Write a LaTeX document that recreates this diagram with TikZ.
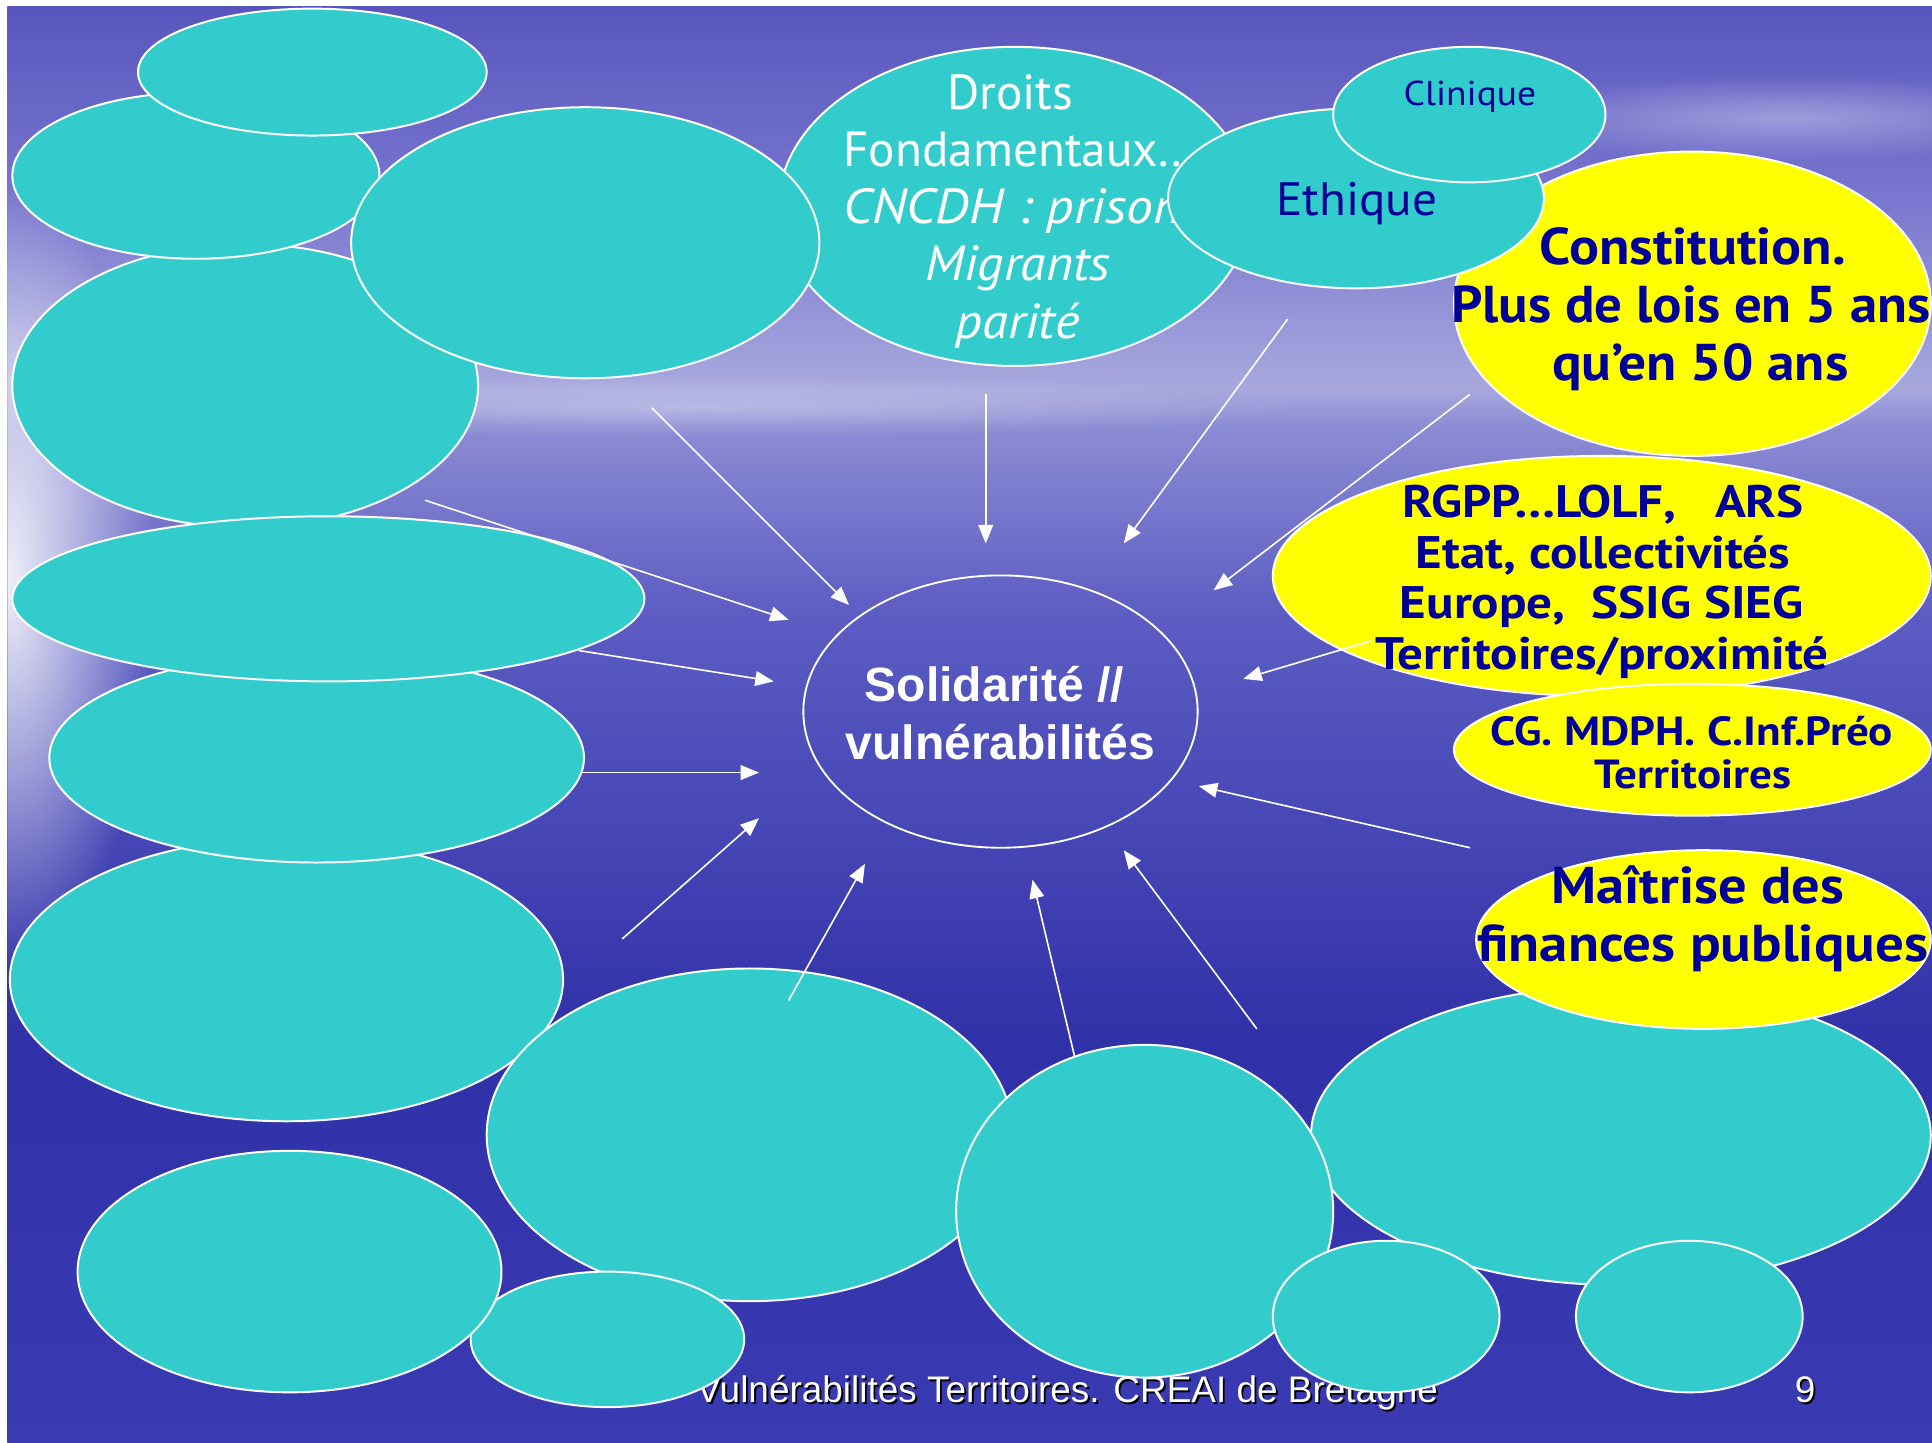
\documentclass[tikz,border=0pt]{standalone}
\usepackage{fontspec}
\usetikzlibrary{shapes.geometric,arrows.meta,fadings}
\newfontfamily\ptsans{PT Sans}
\newfontfamily\libsans{Liberation Sans}
\definecolor{turq}{RGB}{51,204,204}
\definecolor{yel}{RGB}{255,255,0}
\definecolor{navy}{RGB}{0,0,153}
\definecolor{bgT}{RGB}{88,86,190}
\definecolor{bgA}{RGB}{118,116,205}
\definecolor{bgB}{RGB}{168,168,222}
\definecolor{bgC}{RGB}{140,140,212}
\definecolor{bgD}{RGB}{92,92,195}
\definecolor{bgE}{RGB}{48,48,168}
\definecolor{bgF}{RGB}{58,58,178}
\tikzfading[name=softglow, inner color=transparent!0, outer color=transparent!100]
\newcommand\sx[2]{\scalebox{#1}[1]{#2}}
\begin{document}
\begin{tikzpicture}[x=1pt,y=-1pt,
  bub/.style 2 args={ellipse, draw=white, line width=1.6pt, fill=turq, inner sep=0pt, minimum width=#1pt, minimum height=#2pt},
  ybub/.style 2 args={bub={#1}{#2}, fill=yel},
  hub/.style 2 args={ellipse, draw=white, line width=1.5pt, inner sep=0pt, minimum width=#1pt, minimum height=#2pt},
  txt/.style={inner sep=0pt, anchor=base},
  wtxt/.style={txt, text=white, font=\ptsans\fontsize{40}{47}\selectfont},
  ytxt/.style={txt, text=navy, font=\ptsans\bfseries\fontsize{42}{47}\selectfont},
  rtxt/.style={txt, text=navy, font=\ptsans\bfseries\fontsize{37}{41}\selectfont},
  conn/.style={draw=white, line width=1.3pt, -{Triangle[length=15pt,width=12pt]}}]
% background
\useasboundingbox (0,0) rectangle (1568,1171);
\fill[white] (0,0) rectangle (1568,1171);
\shade[top color=bgT, bottom color=bgA] (6,5.5) rectangle (1568,150.5);
\shade[top color=bgA, bottom color=bgB] (6,150) rectangle (1568,315.5);
\shade[top color=bgB, bottom color=bgC] (6,315) rectangle (1568,345.5);
\shade[top color=bgC, bottom color=bgD] (6,345) rectangle (1568,500.5);
\shade[top color=bgD, bottom color=bgE] (6,500) rectangle (1568,850.5);
\shade[top color=bgE, bottom color=bgF] (6,850) rectangle (1568,1171);
\begin{scope}
\clip (6,5.5) rectangle (1568,1171);
\fill[white, path fading=softglow, fill opacity=0.9] (6,470) ellipse [x radius=120, y radius=320];
\fill[white, path fading=softglow, fill opacity=0.35] (1450,95) ellipse [x radius=260, y radius=35];
\fill[white, path fading=softglow, fill opacity=0.3] (560,330) ellipse [x radius=500, y radius=25];
\end{scope}
% footer
\node[txt, anchor=base west, text=black, font=\libsans\fontsize{30}{34}\selectfont] (ftsh) at (566.5,1139.5) {Vulnérabilités Territoires. CREAI de Bretagne};
\node[txt, anchor=base west, text=white, font=\libsans\fontsize{30}{34}\selectfont] (ft) at (565,1138) {Vulnérabilités Territoires. CREAI de Bretagne};
\node[txt, text=black, font=\libsans\fontsize{30}{34}\selectfont] (pgsh) at (1466.5,1139.5) {9};
\node[txt, text=white, font=\libsans\fontsize{30}{34}\selectfont] (pg) at (1465,1138) {9};
% Droits
\node[bub={383}{259}] (U) at (823.5,167.5) {};
\node[wtxt] (dr1) at (820,89) {Droits};
\node[wtxt] (dr2) at (822,135) {Fondamentaux..};
\node[wtxt, anchor=base west] (dr3) at (684,181) {\sx{1.09}{\itshape CNCDH : prison}};
\node[wtxt] (dr4) at (826,228) {\sx{1.05}{\itshape Migrants}};
\node[wtxt] (dr5) at (826,275) {\sx{1.07}{\itshape parité}};
% left cluster
\node[bub={378}{230}] (D) at (199,313) {};
\node[bub={298}{135}] (B) at (159,142.5) {};
\node[bub={283}{103}] (A) at (253.5,58.5) {};
\node[bub={380}{220}] (C) at (475,197) {};
\node[bub={449}{230}] (G) at (232.5,795) {};
\node[bub={434}{170}] (F) at (257,615) {};
\node[bub={513}{134}] (E) at (266.5,486) {};
% bottom cluster
\node[bub={427}{270}] (J) at (608.5,921) {};
\node[bub={222}{110}] (I) at (493,1087) {};
\node[bub={344}{196}] (H) at (235,1032) {};
\node[bub={503}{243}] (M) at (1315.5,921.5) {};
\node[bub={306}{270}] (K) at (929,983) {};
\node[bub={184}{123}] (L) at (1125,1068.5) {};
\node[bub={184}{123}] (N) at (1371,1068.5) {};
% right cluster
\node[ybub={387}{247}] (R) at (1373.5,246.5) {};
\node[bub={305}{146}] (S) at (1100.5,161) {};
\node[bub={221}{110}] (T) at (1192.5,93) {};
\node[ybub={534}{195}] (Q) at (1300,467.5) {};
\node[ybub={387}{107}] (P) at (1373.5,608.5) {};
\node[ybub={369}{145}] (O) at (1382.5,762.5) {};
% texts
\node[txt, text=navy, font=\ptsans\fontsize{38}{44}\selectfont] (eth) at (1101,175) {\sx{1.05}{Ethique}};
\node[txt, text=navy, font=\ptsans\fontsize{28}{32}\selectfont] (cli) at (1193,86) {\sx{1.09}{Clinique}};
\node[ytxt] (co1) at (1374,215) {\sx{1.08}{Constitution.}};
\node[ytxt] (co2) at (1372.5,262) {\sx{1.06}{Plus de lois en 5 ans}};
\node[ytxt] (co3) at (1380,309) {\sx{1.07}{qu’en 50 ans}};
\node[rtxt] (rg1) at (1301,420) {\sx{1.12}{RGPP…LOLF,\ \ \ ARS}};
\node[rtxt] (rg2) at (1301,461) {\sx{1.12}{Etat, collectivités}};
\node[rtxt] (rg3) at (1300,502) {\sx{1.12}{Europe,\ \ SSIG SIEG}};
\node[rtxt] (rg4) at (1300,543) {\sx{1.12}{Territoires/proximité}};
\node[ytxt, font=\ptsans\bfseries\fontsize{33}{35}\selectfont] (cg1) at (1373,605) {\sx{1.11}{CG. MDPH. C.Inf.Préo}};
\node[ytxt, font=\ptsans\bfseries\fontsize{33}{35}\selectfont] (cg2) at (1374,640) {\sx{1.11}{Territoires}};
\node[ytxt] (ma1) at (1378,733) {\sx{1.09}{Maîtrise des}};
\node[ytxt] (ma2) at (1382,780) {\sx{1.10}{finances publiques}};
% arrows
\coordinate (s1) at (529,331);  \coordinate (e1) at (689,491);
\coordinate (s2) at (800,320);  \coordinate (e2) at (800,441);
\coordinate (s3) at (1045,259); \coordinate (e3) at (912,441);
\coordinate (s4) at (1193,320); \coordinate (e4) at (985,479);
\coordinate (s5) at (1113,520); \coordinate (e5) at (1009,551);
\coordinate (s6) at (1193,688); \coordinate (e6) at (973,638);
\coordinate (s7) at (1020,835); \coordinate (e7) at (912,690);
\coordinate (s8) at (872,857);  \coordinate (e8) at (838,714);
\coordinate (s9) at (640,812);  \coordinate (e9) at (702,701);
\coordinate (s10) at (505,762); \coordinate (e10) at (616,664);
\coordinate (s11) at (472,627); \coordinate (e11) at (616,627);
\coordinate (s12) at (470,528); \coordinate (e12) at (628,553);
\coordinate (s13) at (345,406); \coordinate (e13) at (640,503);
\foreach \i in {1,...,13} \draw[conn] (s\i) -- (e\i);
% centre
\node[hub={320}{221}] (ctr) at (812,577.5) {};
\node[txt, text=white, font=\libsans\bfseries\fontsize{39}{47}\selectfont] (ct1) at (807,569) {Solidarité //};
\node[txt, text=white, font=\libsans\bfseries\fontsize{39}{47}\selectfont] (ct2) at (812,616) {vulnérabilités};
\end{tikzpicture}
\end{document}
